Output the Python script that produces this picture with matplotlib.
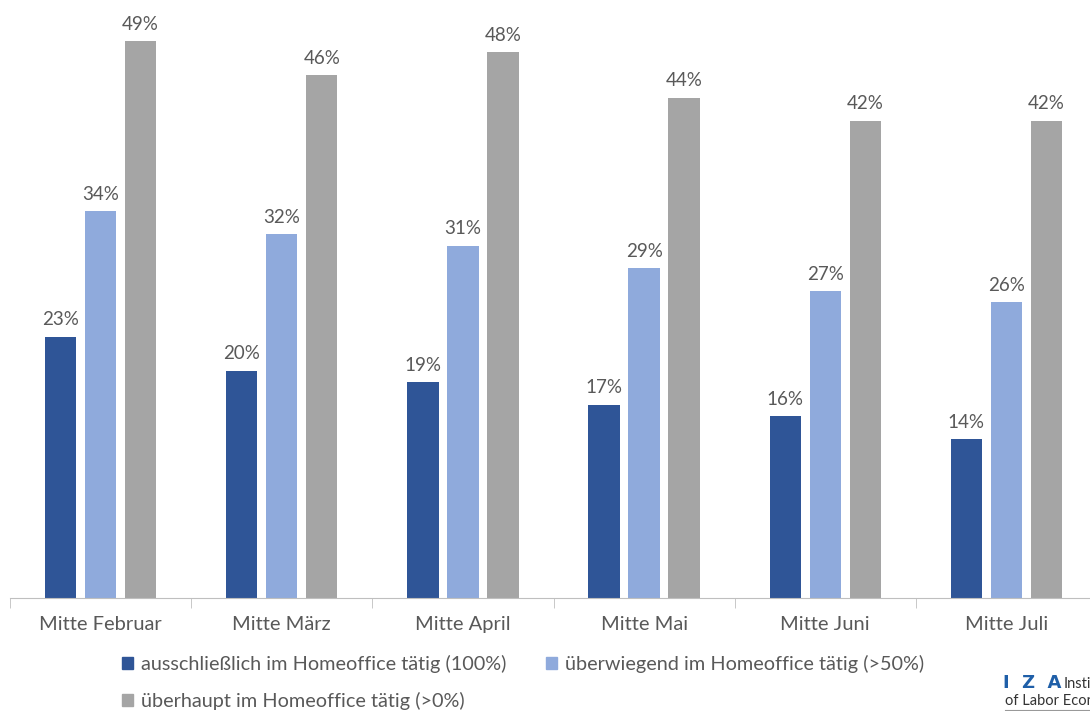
"""Homeoffice shares by month, grouped bars."""
import matplotlib
matplotlib.use("Agg")
import matplotlib.pyplot as plt
import numpy as np

plt.rcParams["font.family"] = ["Lato", "DejaVu Sans"]

months = ["Mitte Februar", "Mitte März", "Mitte April", "Mitte Mai", "Mitte Juni", "Mitte Juli"]
series_names = [
    "ausschließlich im Homeoffice tätig (100%)",
    "überwiegend im Homeoffice tätig (>50%)",
    "überhaupt im Homeoffice tätig (>0%)",
]
exclusive = [23, 20, 19, 17, 16, 14]
mostly = [34, 32, 31, 29, 27, 26]
at_all = [49, 46, 48, 44, 42, 42]
colors = ["#2F5597", "#8FAADC", "#A5A5A5"]
text_color = "#595959"

W, H = 1090, 711
fig = plt.figure(figsize=(W / 100, H / 100), dpi=100)
# axes runs a little past the right edge, like the original crop
ax = fig.add_axes([10 / W, 1 - 598 / H, 1087 / W, 598 / H])

x = np.arange(len(months))
width = 0.173
offsets = [-0.221, 0.0, 0.221]
for vals, off, col in zip([exclusive, mostly, at_all], offsets, colors):
    bars = ax.bar(x + off, vals, width=width, color=col)
    for b, v in zip(bars, vals):
        ax.annotate(f"{v}%", (b.get_x() + b.get_width() / 2, v), xytext=(0, 6),
                    textcoords="offset points", ha="center", va="bottom",
                    fontsize=13.5, color=text_color)

ax.set_xlim(-0.5, 5.5)
ax.set_ylim(0, 52.6)
for s in ["top", "right", "left"]:
    ax.spines[s].set_visible(False)
ax.spines["bottom"].set_color("#bfbfbf")
ax.set_yticks([])
ax.set_xticks(x)
ax.set_xticklabels(months, fontsize=14.5, color=text_color)
ax.tick_params(axis="x", length=0, pad=13)
ax.set_xticks(np.arange(-0.5, 6.0, 1.0), minor=True)
ax.tick_params(axis="x", which="minor", length=7, color="#bfbfbf")

handles = [plt.Rectangle((0, 0), 1, 1, color=c) for c in colors]
order = [0, 2, 1]
leg = fig.legend([handles[i] for i in order], [series_names[i] for i in order],
                 ncol=2, loc="upper left", bbox_to_anchor=(122 / W, 1 - 655 / H),
                 frameon=False, fontsize=14.3, handlelength=0.55, handleheight=0.55,
                 handletextpad=0.4, columnspacing=2.0, labelspacing=0.95,
                 borderaxespad=0, borderpad=0)
for t in leg.get_texts():
    t.set_color(text_color)

# IZA logo text, cut off at the edge as in the source image
fig.text(1003 / W, 1 - 688 / H, "I  Z  A", color="#1f5fa8", fontsize=13,
         fontweight="bold", va="baseline", family=["DejaVu Sans"])
fig.text(1064 / W, 1 - 688 / H, "Institute", color="#333333", fontsize=10.5, va="baseline")
fig.text(1005 / W, 1 - 705 / H, "of Labor Economics", color="#333333", fontsize=10.5, va="baseline")
fig.add_artist(plt.Line2D([1005 / W, 1], [1 - 709.5 / H] * 2, color="#999999", lw=0.8))

fig.savefig("out.png", dpi=100)
